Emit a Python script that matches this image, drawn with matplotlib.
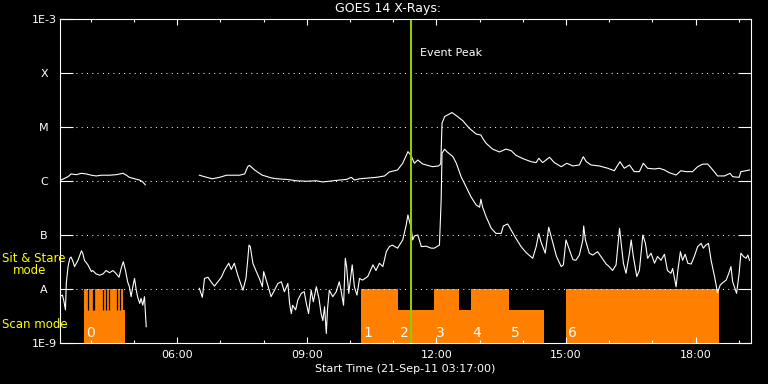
import numpy as np
import matplotlib
matplotlib.use("Agg")
import matplotlib.pyplot as plt
from matplotlib.ticker import FixedLocator, NullLocator

# GOES 14 x-ray flux, 21-Sep-2011 (time in decimal hours UT)
nan = np.nan
t_long = [3.27, 3.47, 3.54, 3.66, 3.78, 3.89, 4.01, 4.12, 4.24, 4.43, 4.59, 4.74, 4.82, 4.89,
          5.01, 5.13, 5.20, 5.26, 5.9,
          6.51, 6.63, 6.81, 6.98, 7.14, 7.44, 7.56, 7.63, 7.67, 7.79, 7.90, 7.97, 8.18, 8.30,
          8.53, 8.76, 8.99, 9.22, 9.36, 9.52, 9.75, 9.92, 10.03, 10.10, 10.22, 10.45, 10.61,
          10.80, 10.91, 11.10, 11.22, 11.34, 11.41, 11.49, 11.57, 11.68, 11.91, 12.05, 12.10,
          12.13, 12.19, 12.36, 12.49, 12.61, 12.76, 12.92, 13.03, 13.07, 13.15, 13.30, 13.46,
          13.61, 13.73, 13.84, 14.00, 14.19, 14.31, 14.37, 14.46, 14.62, 14.73, 14.89, 15.02,
          15.16, 15.31, 15.40, 15.47, 15.58, 15.77, 15.97, 16.12, 16.25, 16.35, 16.47, 16.58,
          16.70, 16.79, 16.89, 17.05, 17.16, 17.28, 17.39, 17.55, 17.66, 17.78, 17.93, 18.05,
          18.16, 18.28, 18.40, 18.51, 18.67, 18.80, 18.86, 19.01, 19.05, 19.17, 19.25]
f_long = [1.01e-6, 1.20e-6, 1.35e-6, 1.31e-6, 1.39e-6, 1.35e-6, 1.28e-6, 1.24e-6, 1.28e-6,
          1.28e-6, 1.31e-6, 1.39e-6, 1.28e-6, 1.17e-6, 1.10e-6, 1.04e-6, 0.96e-6, 0.85e-6, nan,
          1.28e-6, 1.20e-6, 1.10e-6, 1.17e-6, 1.28e-6, 1.28e-6, 1.35e-6, 1.84e-6, 1.95e-6,
          1.60e-6, 1.39e-6, 1.28e-6, 1.14e-6, 1.10e-6, 1.07e-6, 1.01e-6, 0.99e-6, 1.01e-6,
          0.96e-6, 0.99e-6, 1.04e-6, 1.07e-6, 1.17e-6, 1.04e-6, 1.10e-6, 1.14e-6, 1.17e-6,
          1.24e-6, 1.47e-6, 1.60e-6, 2.13e-6, 3.50e-6, 3.00e-6, 2.13e-6, 2.45e-6, 2.07e-6,
          1.84e-6, 1.90e-6, 2.07e-6, 1.18e-5, 1.56e-5, 1.85e-5, 1.56e-5, 1.31e-5, 9.5e-6,
          7.4e-6, 7.1e-6, 6.2e-6, 5.0e-6, 3.9e-6, 3.45e-6, 3.9e-6, 3.65e-6, 3.0e-6, 2.6e-6,
          2.28e-6, 2.19e-6, 2.64e-6, 2.19e-6, 2.75e-6, 2.19e-6, 1.84e-6, 2.13e-6, 1.90e-6,
          1.98e-6, 2.82e-6, 2.28e-6, 1.98e-6, 1.90e-6, 1.72e-6, 1.55e-6, 2.28e-6, 1.72e-6,
          1.98e-6, 1.49e-6, 1.49e-6, 2.13e-6, 1.72e-6, 1.67e-6, 1.72e-6, 1.60e-6, 1.43e-6,
          1.29e-6, 1.55e-6, 1.49e-6, 1.49e-6, 1.84e-6, 2.04e-6, 2.07e-6, 1.60e-6, 1.24e-6,
          1.24e-6, 1.39e-6, 1.20e-6, 1.17e-6, 1.49e-6, 1.55e-6, 1.60e-6]

t_short = [3.27, 3.34, 3.37, 3.41, 3.43, 3.47, 3.51, 3.54, 3.58, 3.62, 3.70, 3.78, 3.81, 3.85,
           3.93, 4.01, 4.04, 4.12, 4.20, 4.28, 4.35, 4.43, 4.51, 4.59, 4.65, 4.70, 4.75, 4.80,
           4.85, 4.89, 4.93, 4.97, 5.01, 5.05, 5.08, 5.13, 5.16, 5.20, 5.24, 5.28, 5.9,
           6.51, 6.58, 6.63, 6.71, 6.78, 6.86, 6.94, 7.02, 7.09, 7.19, 7.25, 7.32, 7.40, 7.48,
           7.52, 7.59, 7.63, 7.66, 7.69, 7.75, 7.83, 7.90, 7.97, 8.00, 8.06, 8.13, 8.17, 8.25,
           8.33, 8.41, 8.48, 8.56, 8.60, 8.64, 8.67, 8.74, 8.79, 8.87, 8.94, 8.98, 9.04, 9.10,
           9.15, 9.22, 9.28, 9.33, 9.37, 9.41, 9.45, 9.48, 9.52, 9.60, 9.68, 9.75, 9.79, 9.85,
           9.89, 9.92, 9.97, 10.05, 10.10, 10.16, 10.22, 10.29, 10.41, 10.53, 10.60, 10.68,
           10.76, 10.84, 10.91, 10.98, 11.10, 11.22, 11.30, 11.34, 11.38, 11.41, 11.45, 11.49,
           11.57, 11.65, 11.76, 11.88, 11.95, 12.07, 12.11, 12.13, 12.19, 12.24, 12.38, 12.46,
           12.57, 12.69, 12.80, 12.92, 13.00, 13.03, 13.07, 13.15, 13.27, 13.38, 13.50, 13.55,
           13.65, 13.73, 13.84, 13.96, 14.08, 14.23, 14.31, 14.37, 14.42, 14.52, 14.60, 14.69,
           14.78, 14.89, 14.94, 15.00, 15.08, 15.16, 15.23, 15.31, 15.39, 15.41, 15.45, 15.54,
           15.62, 15.73, 15.81, 15.93, 16.00, 16.08, 16.16, 16.24, 16.33, 16.39, 16.47, 16.51,
           16.56, 16.64, 16.70, 16.78, 16.84, 16.89, 16.97, 17.05, 17.12, 17.20, 17.28, 17.35,
           17.43, 17.47, 17.55, 17.59, 17.65, 17.70, 17.76, 17.82, 17.90, 17.97, 18.05, 18.13,
           18.18, 18.24, 18.30, 18.36, 18.44, 18.51, 18.57, 18.63, 18.71, 18.77, 18.82, 18.86,
           18.95, 19.01, 19.05, 19.11, 19.17, 19.21, 19.25]
f_short = [7.2e-9, 7.7e-9, 6.2e-9, 4.1e-9, 1.29e-8, 2.6e-8, 3.7e-8, 3.9e-8, 3.3e-8, 2.6e-8,
           3.4e-8, 5.1e-8, 4.6e-8, 3.4e-8, 2.8e-8, 2.1e-8, 2.2e-8, 1.9e-8, 1.8e-8, 1.9e-8,
           2.2e-8, 2.0e-8, 2.2e-8, 1.9e-8, 1.65e-8, 2.4e-8, 3.2e-8, 2.2e-8, 1.36e-8, 1.1e-8,
           7.2e-9, 1.1e-8, 1.57e-8, 9.5e-9, 7.2e-9, 5.4e-9, 6.7e-9, 5.0e-9, 7.2e-9, 2.0e-9, nan,
           1.03e-8, 7.0e-9, 1.57e-8, 1.65e-8, 1.36e-8, 1.13e-8, 1.36e-8, 1.65e-8, 2.2e-8,
           3.0e-8, 2.3e-8, 3.0e-8, 1.8e-8, 1.18e-8, 9.5e-9, 1.57e-8, 3.4e-8, 6.5e-8, 6.1e-8,
           3.0e-8, 2.1e-8, 1.57e-8, 1.1e-8, 2.1e-8, 1.46e-8, 9.5e-9, 7.2e-9, 9.5e-9, 1.27e-8,
           1.36e-8, 8.9e-9, 1.27e-8, 5.4e-9, 3.5e-9, 5.0e-9, 4.1e-9, 6.2e-9, 8.3e-9, 8.9e-9,
           5.8e-9, 3.5e-9, 9.5e-9, 5.8e-9, 1.1e-8, 6.7e-9, 3.5e-9, 2.6e-9, 4.7e-9, 1.5e-9,
           4.4e-9, 9.5e-9, 7.2e-9, 8.9e-9, 1.36e-8, 9.5e-9, 5.0e-9, 3.7e-8, 2.6e-8, 8.3e-9,
           2.8e-8, 1.1e-8, 7.7e-9, 1.57e-8, 1.46e-8, 1.7e-8, 2.8e-8, 2.2e-8, 3.0e-8, 2.6e-8,
           4.9e-8, 6.1e-8, 6.5e-8, 5.7e-8, 8.1e-8, 1.53e-7, 2.35e-7, 1.74e-7, 1.43e-7, 8.1e-8,
           9.6e-8, 1.0e-7, 6.1e-8, 6.2e-8, 5.7e-8, 5.7e-8, 6.5e-8, 4.5e-7, 3.28e-6, 3.89e-6,
           3.5e-6, 2.84e-6, 2.14e-6, 1.21e-6, 7.7e-7, 5.1e-7, 3.6e-7, 3.27e-7, 4.6e-7, 3.27e-7,
           2.19e-7, 1.33e-7, 1.07e-7, 1.07e-7, 1.47e-7, 1.6e-7, 1.24e-7, 8.7e-8, 6.1e-8, 4.7e-8,
           3.7e-8, 6.1e-8, 1.07e-7, 7.5e-8, 4.6e-8, 1.39e-7, 7.5e-8, 4.0e-8, 2.6e-8, 2.8e-8,
           8.1e-8, 5.3e-8, 3.5e-8, 3.4e-8, 4.25e-8, 8.1e-8, 1.47e-7, 8.1e-8, 4.6e-8, 4.25e-8,
           4.9e-8, 4.0e-8, 2.9e-8, 2.6e-8, 2.2e-8, 2.8e-8, 1.33e-7, 3.0e-8, 1.95e-8, 4.6e-8,
           8.1e-8, 4.0e-8, 1.7e-8, 2.2e-8, 1.0e-7, 7.0e-8, 3.7e-8, 4.6e-8, 3.0e-8, 4.0e-8,
           3.4e-8, 4.4e-8, 2.2e-8, 1.95e-8, 2.4e-8, 1.1e-8, 2.2e-8, 4.9e-8, 3.4e-8, 4.4e-8,
           3.0e-8, 2.9e-8, 4.0e-8, 6.1e-8, 7.0e-8, 5.7e-8, 6.5e-8, 7.0e-8, 3.4e-8, 1.7e-8,
           8.5e-9, 1.18e-8, 1.31e-8, 1.46e-8, 1.95e-8, 2.6e-8, 1.36e-8, 8.3e-9, 1.95e-8, 4.6e-8,
           4.0e-8, 3.7e-8, 4.25e-8, 3.4e-8]

# scan-mode rasters (orange blocks)
scan_start = [3.85, 3.85, 10.26, 11.12, 11.95, 12.53, 12.79, 13.67, 14.99]
scan_end = [4.78, 4.74, 11.12, 11.95, 12.53, 12.79, 13.67, 14.50, 18.55]
scan_top = [4.1e-9, 1e-8, 1e-8, 4.1e-9, 1e-8, 4.1e-9, 1e-8, 4.1e-9, 1e-8]
scan_gaps = [3.93, 4.04, 4.08, 4.28, 4.36, 4.42, 4.60, 4.68]
raster_ids = ["0", "1", "2", "3", "4", "5", "6"]
raster_time = [3.85, 10.26, 11.12, 11.95, 12.79, 13.67, 14.99]

event_peak = 11.40
t_range = (3.2833, 19.2833)
hour_major = [6, 9, 12, 15, 18]
hour_labels = ["06:00", "09:00", "12:00", "15:00", "18:00"]
flux_ticks = [1e-9, 1e-8, 1e-7, 1e-6, 1e-5, 1e-4, 1e-3]
flux_labels = ["1E-9", "A", "B", "C", "M", "X", "1E-3"]

orange = "#FF8000"
green = "#96C800"

fig = plt.figure(figsize=(7.68, 3.84), dpi=100, facecolor="black")
ax = fig.add_axes([0.0781, 0.1068, 0.8997, 0.8437], facecolor="black")

ax.bar(scan_start, np.array(scan_top) - 1e-9, width=np.array(scan_end) - np.array(scan_start),
       bottom=1e-9, align="edge", color=orange, linewidth=0, zorder=1)
ax.vlines(scan_gaps, 4.1e-9, 1e-8, color="black", lw=0.9, zorder=1.5)
for lab, t in zip(raster_ids, raster_time):
    ax.annotate(lab, (t, 1e-9), xytext=(1.5, 2.5), textcoords="offset points",
                color="white", fontsize=10, ha="left", va="bottom", zorder=3)

ax.plot(t_long, f_long, color="white", lw=0.8, zorder=2)
ax.plot(t_short, f_short, color="white", lw=0.8, zorder=2)

ax.axvline(event_peak, color=green, lw=1.5, zorder=2.5)
ax.annotate("Event Peak", (event_peak, 1e-3), xytext=(7, -28), textcoords="offset points",
            color="white", fontsize=8, ha="left", va="bottom")

ax.set_yscale("log")
ax.set_ylim(1e-9, 1e-3)
ax.set_xlim(*t_range)
ax.yaxis.set_major_locator(FixedLocator(flux_ticks))
ax.yaxis.set_minor_locator(NullLocator())
ax.set_yticklabels(flux_labels)
ax.xaxis.set_major_locator(FixedLocator(hour_major))
ax.xaxis.set_minor_locator(FixedLocator(range(4, 20)))
ax.set_xticklabels(hour_labels)

ax.grid(axis="y", which="major", color="white", lw=0.72, linestyle=(0, (1, 4.3)))
ax.tick_params(axis="y", which="major", direction="in", length=9.5, width=0.8,
               left=True, right=True, colors="white", labelsize=8, pad=11.5)
for lab in ax.get_yticklabels():
    lab.set_horizontalalignment("center")
ax.tick_params(axis="x", which="major", direction="in", length=4.5, width=0.8,
               top=True, bottom=True, colors="white", labelsize=8, pad=5)
ax.tick_params(axis="x", which="minor", direction="in", length=2.5, width=0.8,
               top=True, bottom=True, colors="white")
for sp in ax.spines.values():
    sp.set_color("white")
    sp.set_linewidth(0.8)

ax.set_xlabel("Start Time (21-Sep-11 03:17:00)", color="white", fontsize=8, labelpad=3)
fig.text(0.505, 0.979, "GOES 14 X-Rays:", color="white", fontsize=9, ha="center", va="center")
fig.text(0.002, 1 - 259 / 384, "Sit & Stare", color="yellow", fontsize=8.5, ha="left", va="center")
fig.text(0.017, 1 - 271 / 384, "mode", color="yellow", fontsize=8.5, ha="left", va="center")
fig.text(0.002, 1 - 324 / 384, "Scan mode", color="yellow", fontsize=8.5, ha="left", va="center")

fig.savefig("out.png", dpi=100, facecolor="black")
